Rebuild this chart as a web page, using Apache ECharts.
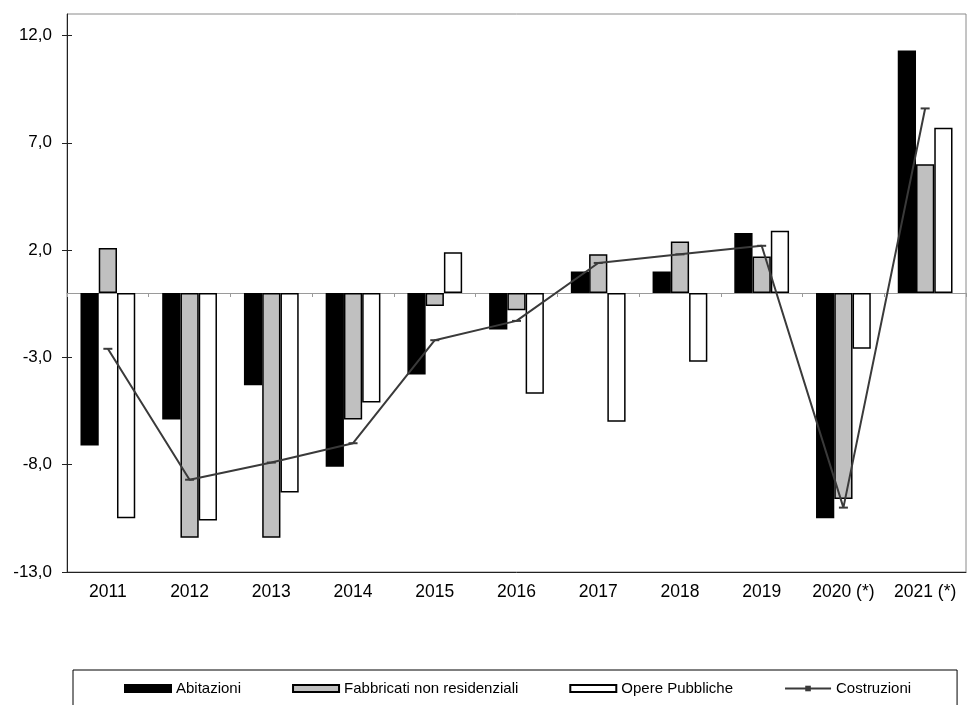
<!DOCTYPE html>
<html>
<head>
<meta charset="utf-8">
<script src="https://cdn.jsdelivr.net/npm/echarts@6/dist/echarts.min.js"></script>
<style>
  html, body { margin: 0; padding: 0; background: #fff; }
  #chart { width: 974px; height: 705px; }
</style>
</head>
<body>
<div id="chart"></div>
<script>
// Annual percentage changes by construction segment
const years = ['2011', '2012', '2013', '2014', '2015', '2016', '2017', '2018', '2019', '2020 (*)', '2021 (*)'];
const abitazioni = [-7.1, -5.9, -4.3, -8.1, -3.8, -1.7, 1.0, 1.0, 2.8, -10.5, 11.3];
const fabbricati = [2.1, -11.4, -11.4, -5.9, -0.6, -0.8, 1.8, 2.4, 1.7, -9.6, 6.0];
const operePubbliche = [-10.5, -10.6, -9.3, -5.1, 1.9, -4.7, -6.0, -3.2, 2.9, -2.6, 7.7];
const costruzioni = [-2.6, -8.7, -7.9, -7.0, -2.2, -1.3, 1.4, 1.8, 2.2, -10.0, 8.6];
const yTicks = [-13, -8, -3, 2, 7, 12];

const FONT = "'Liberation Sans', Arial, sans-serif";
const chart = echarts.init(document.getElementById('chart'), null, { renderer: 'canvas' });

const barBorder = { borderColor: '#000', borderWidth: 1.5 };

chart.setOption({
  backgroundColor: '#fff',
  animation: false,
  textStyle: { fontFamily: FONT },
  grid: {
    left: 67, right: 8, top: 14, bottom: 133,
    show: true, borderColor: '#8a8a8a', borderWidth: 1
  },
  legend: {
    left: 73, top: 670,
    padding: [11, 46, 12, 51],
    itemWidth: 46, itemHeight: 7, itemGap: 51,
    borderColor: '#000', borderWidth: 1,
    textStyle: { fontSize: 15, color: '#000', fontFamily: FONT },
    data: [
      { name: 'Abitazioni', icon: 'rect' },
      { name: 'Fabbricati non residenziali', icon: 'rect' },
      { name: 'Opere Pubbliche', icon: 'rect' },
      { name: 'Costruzioni' }
    ]
  },
  xAxis: [
    {
      // category axis crossing at zero: baseline with ticks between groups
      type: 'category', data: years,
      axisLine: { onZero: true, lineStyle: { color: '#9a9a9a', width: 1 } },
      axisTick: { show: true, length: 4, inside: false, lineStyle: { color: '#9a9a9a' } },
      axisLabel: { show: false },
      splitLine: { show: false }
    },
    {
      // bottom axis carrying the year labels
      type: 'category', data: years, position: 'bottom',
      axisLine: { onZero: false, lineStyle: { color: '#222', width: 1 } },
      axisTick: { show: false },
      axisLabel: { show: true, fontSize: 17.5, color: '#000', margin: 11, fontFamily: FONT, interval: 0 },
      splitLine: { show: false }
    }
  ],
  yAxis: [
    {
      type: 'value', min: -13, max: 13,
      axisLine: { show: true, lineStyle: { color: '#222', width: 1 } },
      axisTick: { show: true, length: 5, customValues: yTicks, lineStyle: { color: '#222' } },
      axisLabel: {
        show: true, customValues: yTicks, fontSize: 17, color: '#000', margin: 15, fontFamily: FONT,
        formatter: v => v.toFixed(1).replace('.', ',')
      },
      splitLine: { show: false }
    },
    {
      // inner half of the crossing tick marks
      type: 'value', min: -13, max: 13, position: 'left',
      axisLine: { show: false },
      axisTick: { show: true, inside: true, length: 5, customValues: yTicks, lineStyle: { color: '#222' } },
      axisLabel: { show: false },
      splitLine: { show: false }
    }
  ],
  series: [
    {
      name: 'Abitazioni', type: 'bar', data: abitazioni,
      barGap: '0%', barCategoryGap: '33%',
      itemStyle: Object.assign({ color: '#000' }, barBorder)
    },
    {
      name: 'Fabbricati non residenziali', type: 'bar', data: fabbricati,
      barGap: '0%', barCategoryGap: '33%',
      itemStyle: Object.assign({ color: '#c0c0c0' }, barBorder)
    },
    {
      name: 'Opere Pubbliche', type: 'bar', data: operePubbliche,
      barGap: '0%', barCategoryGap: '33%',
      itemStyle: Object.assign({ color: '#fff' }, barBorder)
    },
    {
      name: 'Costruzioni', type: 'line', data: costruzioni, z: 5,
      symbol: 'rect', symbolSize: [9, 2], showSymbol: true,
      lineStyle: { color: '#3a3a3a', width: 2 },
      itemStyle: { color: '#3a3a3a' }
    }
  ]
});
</script>
</body>
</html>
